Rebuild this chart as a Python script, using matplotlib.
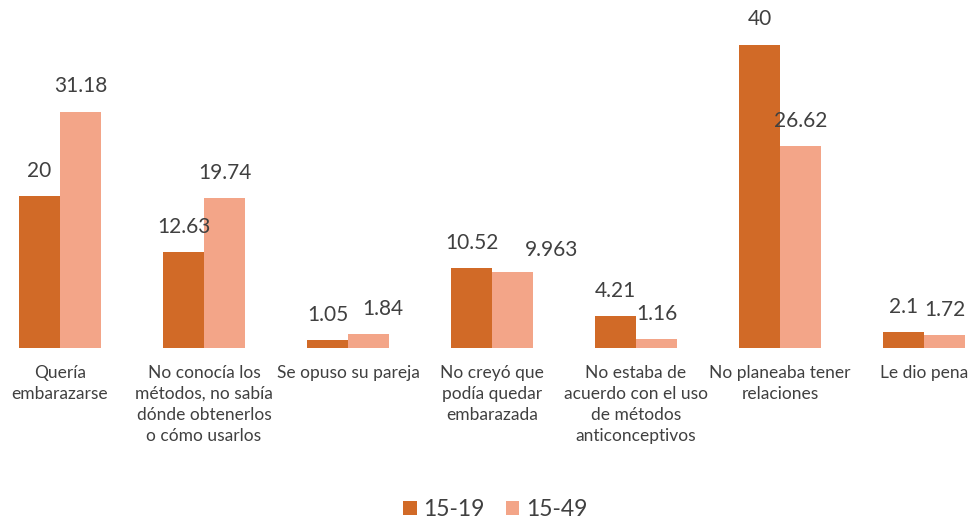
import matplotlib

matplotlib.use("Agg")

import matplotlib.pyplot as plt
import numpy as np

plt.rcParams["font.family"] = ["Lato", "DejaVu Sans"]

CATEGORIES = [
    "Quería\nembarazarse",
    "No conocía los\nmétodos, no sabía\ndónde obtenerlos\no cómo usarlos",
    "Se opuso su pareja",
    "No creyó que\npodía quedar\nembarazada",
    "No estaba de\nacuerdo con el uso\nde métodos\nanticonceptivos",
    "No planeaba tener\nrelaciones",
    "Le dio pena",
]
SERIES_NAMES = ["15-19", "15-49"]
VALUES_15_19 = [20, 12.63, 1.05, 10.52, 4.21, 40, 2.1]
VALUES_15_49 = [31.18, 19.74, 1.84, 9.963, 1.16, 26.62, 1.72]
LABELS_15_19 = ["20", "12.63", "1.05", "10.52", "4.21", "40", "2.1"]
LABELS_15_49 = ["31.18", "19.74", "1.84", "9.963", "1.16", "26.62", "1.72"]

DARK = "#D16A27"
LIGHT = "#F3A588"
TEXT = "#404040"


def main():
    fig = plt.figure(figsize=(9.71, 5.21), dpi=100)
    ax = fig.add_axes([0.0, 0.332, 1.0, 0.668])

    x = np.arange(len(CATEGORIES))
    width = 0.285

    bars1 = ax.bar(x - width / 2, VALUES_15_19, width, color=DARK, label=SERIES_NAMES[0])
    bars2 = ax.bar(x + width / 2, VALUES_15_49, width, color=LIGHT, label=SERIES_NAMES[1])

    ax.bar_label(bars1, labels=LABELS_15_19, padding=11, fontsize=15, color=TEXT)
    anns = ax.bar_label(bars2, labels=LABELS_15_49, padding=11, fontsize=15, color=TEXT)
    # a couple of labels sit off-centre in the original, nudge them
    anns[2].xyann = (10, 11)
    anns[3].xyann = (28, 9)

    ax.set_xlim(-0.417, 6.326)
    ax.set_ylim(0, 45.9)

    ax.set_xticks(x)
    ax.set_xticklabels(CATEGORIES, fontsize=12.5, color=TEXT, linespacing=1.4, va="top")
    ax.tick_params(axis="x", length=0, pad=12)
    ax.set_yticks([])
    for spine in ax.spines.values():
        spine.set_visible(False)

    fig.legend(
        loc="center",
        bbox_to_anchor=(0.51, 0.022),
        ncol=2,
        frameon=False,
        fontsize=16.5,
        labelcolor=TEXT,
        handlelength=0.6,
        handleheight=0.6,
        handletextpad=0.3,
        columnspacing=0.9,
    )

    fig.savefig("out.png", dpi=100)
    plt.close(fig)


if __name__ == "__main__":
    main()
